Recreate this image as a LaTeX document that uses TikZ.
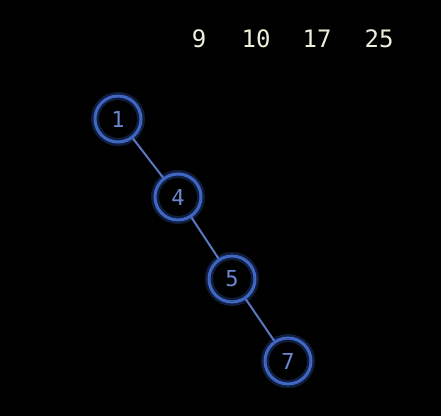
\documentclass[tikz,border=0pt]{standalone}
\usepackage{fontspec}
\setmonofont{DejaVu Sans Mono}
\definecolor{nodeblue}{HTML}{4066C4}
\definecolor{glowblue}{HTML}{2C4A9A}
\definecolor{numblue}{HTML}{6A88D0}
\definecolor{cream}{HTML}{EEEEDA}
\definecolor{edgeblue}{HTML}{5A78C0}
\begin{document}
\begin{tikzpicture}[x=1pt,y=-1pt,
  treenode/.style={circle,minimum size=46pt,inner sep=0pt,draw=nodeblue,line width=3pt,
     text=numblue,font=\ttfamily\fontsize{22}{22}\selectfont,
     preaction={draw=glowblue,line width=8pt,draw opacity=0.4}},
  label/.style={text=cream,font=\ttfamily\fontsize{24}{24}\selectfont},
  edge/.style={draw=edgeblue,line width=2pt}]
\fill[black] (0,0) rectangle (441,416);
\useasboundingbox (0,0) rectangle (441,416);
\node[treenode] (n1) at (118,119) {1};
\node[treenode] (n4) at (178,197) {4};
\node[treenode] (n5) at (232,279) {5};
\node[treenode] (n7) at (288,361) {7};
\draw[edge] (n1) -- (n4);
\draw[edge] (n4) -- (n5);
\draw[edge] (n5) -- (n7);
\node[label] (t9) at (199,39) {9};
\node[label] (t10) at (256,39) {10};
\node[label] (t17) at (317,39) {17};
\node[label] (t25) at (379,39) {25};
\end{tikzpicture}
\end{document}
